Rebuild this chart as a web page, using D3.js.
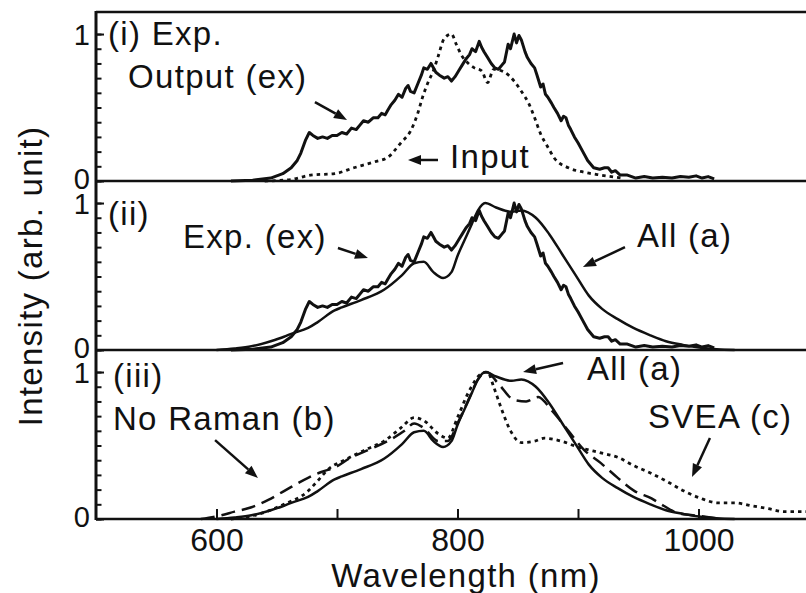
<!DOCTYPE html>
<html>
<head>
<meta charset="utf-8">
<script src="https://cdn.jsdelivr.net/npm/d3@7/dist/d3.min.js"></script>
<style>
  html, body { margin: 0; padding: 0; background: #fff; }
  svg { display: block; }
  text { font-family: 'Liberation Sans', Arial, Helvetica, sans-serif; fill: #111; }
</style>
</head>
<body>
<svg id="chart" width="806" height="593"></svg>
<script>
// values (wavelength in nm, intensity normalised)
var expWavelength = [612, 630, 645, 655, 662, 667, 670, 674, 677, 680, 684, 688, 692, 696, 700, 704, 708, 712, 716, 719,
  722, 726, 730, 734, 737, 740, 742, 745, 748, 751, 754, 757, 759, 761, 764, 767, 770, 772, 775, 778,
  780, 782, 785, 789, 792, 795, 798, 801, 804, 807, 810, 812, 815, 818, 820, 822, 825, 828, 831, 834,
  837, 839, 842, 844, 847, 849, 851, 853, 856, 858, 861, 864, 866, 869, 871, 873, 875, 878, 880, 883,
  886, 888, 890, 892, 894, 897, 900, 904, 908, 913, 918, 922, 925, 928, 931, 935, 941, 948, 955, 962,
  970, 978, 985, 992, 998, 1003, 1008, 1013];
var expIntensity = [0, 0.005, 0.02, 0.05, 0.09, 0.14, 0.19, 0.28, 0.33, 0.31, 0.29, 0.3, 0.29, 0.31, 0.31, 0.33, 0.32, 0.36, 0.35, 0.38,
  0.41, 0.4, 0.43, 0.43, 0.46, 0.45, 0.48, 0.52, 0.55, 0.59, 0.57, 0.63, 0.65, 0.61, 0.6, 0.66, 0.72, 0.77, 0.76, 0.8,
  0.77, 0.74, 0.72, 0.7, 0.71, 0.68, 0.71, 0.75, 0.79, 0.83, 0.86, 0.9, 0.88, 0.95, 0.91, 0.88, 0.84, 0.8, 0.77, 0.76,
  0.79, 0.81, 0.93, 0.9, 1.0, 0.94, 0.99, 0.96, 0.88, 0.84, 0.8, 0.77, 0.72, 0.64, 0.66, 0.59, 0.57, 0.53, 0.5, 0.46,
  0.41, 0.44, 0.43, 0.38, 0.35, 0.3, 0.26, 0.2, 0.14, 0.09, 0.08, 0.09, 0.09, 0.06, 0.07, 0.04, 0.04, 0.02, 0.03, 0.02,
  0.025, 0.02, 0.03, 0.025, 0.035, 0.02, 0.03, 0.015];

var inputWavelength = [640, 662, 678, 698, 714, 731, 742, 753, 761, 767, 771, 776, 780, 784, 789, 795, 799, 803, 809, 814,
  820, 825, 830, 839, 847, 853, 859, 864, 869, 875, 880, 892, 905, 919, 936];
var inputIntensity = [0, 0.01, 0.04, 0.05, 0.09, 0.13, 0.16, 0.26, 0.34, 0.46, 0.57, 0.68, 0.75, 0.85, 0.97, 1.0, 0.93, 0.86, 0.8, 0.77,
  0.75, 0.67, 0.76, 0.74, 0.68, 0.61, 0.53, 0.43, 0.32, 0.23, 0.16, 0.09, 0.06, 0.04, 0.02];

var allWavelength = [600, 615, 629, 645, 656, 662, 676, 684, 698, 704, 720, 739, 754, 764, 772, 780, 788, 795, 800, 806,
  812, 817, 823, 832, 845, 853, 865, 876, 887, 898, 909, 920, 933, 946, 960, 973, 987, 1002, 1015, 1030];
var allIntensity = [0, 0.01, 0.025, 0.06, 0.09, 0.11, 0.15, 0.19, 0.27, 0.29, 0.34, 0.41, 0.51, 0.59, 0.6, 0.53, 0.49, 0.53, 0.64, 0.75,
  0.86, 0.95, 1.0, 0.97, 0.94, 0.95, 0.9, 0.79, 0.65, 0.51, 0.37, 0.28, 0.21, 0.15, 0.1, 0.06, 0.035, 0.015, 0.005, 0];

var noRamanWavelength = [587, 601, 615, 629, 643, 656, 676, 687, 698, 712, 726, 742, 756, 764, 772, 784, 792, 800, 809, 817,
  824, 834, 847, 857, 867, 878, 892, 905, 919, 933, 947, 961, 971, 983, 1002, 1019];
var noRamanIntensity = [0, 0.02, 0.05, 0.08, 0.13, 0.19, 0.28, 0.32, 0.35, 0.42, 0.47, 0.53, 0.6, 0.65, 0.62, 0.53, 0.53, 0.65, 0.81, 0.95,
  1.0, 0.92, 0.81, 0.8, 0.83, 0.74, 0.6, 0.47, 0.38, 0.28, 0.19, 0.14, 0.09, 0.04, 0.02, 0];

var sveaWavelength = [612, 629, 656, 676, 684, 693, 706, 726, 739, 753, 764, 772, 784, 792, 800, 809, 820, 825, 830, 836,
  844, 853, 864, 872, 886, 900, 919, 933, 947, 961, 975, 988, 1002, 1016, 1030, 1044, 1058, 1071, 1090, 1101];
var sveaIntensity = [0, 0.02, 0.1, 0.19, 0.26, 0.34, 0.4, 0.48, 0.53, 0.62, 0.69, 0.67, 0.58, 0.55, 0.69, 0.86, 0.99, 1.0, 0.9, 0.76,
  0.6, 0.52, 0.53, 0.55, 0.53, 0.49, 0.45, 0.42, 0.36, 0.31, 0.25, 0.19, 0.14, 0.11, 0.11, 0.09, 0.07, 0.05, 0.05, 0.05];

var xTicks = [600, 700, 800, 900, 1000, 1100];
var xTickLabels = [600, 800, 1000];
var yTicks = [0, 0.1, 0.2, 0.3, 0.4, 0.5, 0.6, 0.7, 0.8, 0.9, 1];
var yTickLabels = [0, 1];
var panelNames = ['(i) Exp.', '(ii)', '(iii)'];

var plotLeft = 96,
    plotRight = 819,
    panelTop = 12,
    panelHeight = 169,
    ink = '#111',
    noteFont = '33px',
    noteSpacing = '1.3px';

var svg = d3.select('#chart');
var x = d3.scaleLinear().domain([500, 1100]).range([plotLeft, plotRight]);

function pairs(ws, vs) {
  return ws.map(function(w, i) { return [w, vs[i]]; });
}

var panels = [
  {
    series: [
      { data: pairs(expWavelength, expIntensity), dash: null, width: 3, smooth: false },
      { data: pairs(inputWavelength, inputIntensity), dash: '3.5,4', width: 2.8, smooth: true }
    ],
    notes: [
      { text: panelNames[0], w: 510, v: 0.925 },
      { text: 'Output (ex)', w: 526.6, v: 0.633 },
      { text: 'Input', w: 793.8, v: 0.088 }
    ],
    arrows: [
      { from: [681.7, 0.537], to: [708.3, 0.415] },
      { from: [783.8, 0.143], to: [758.9, 0.143] }
    ]
  },
  {
    series: [
      { data: pairs(expWavelength, expIntensity), dash: null, width: 3, smooth: false },
      { data: pairs(allWavelength, allIntensity), dash: null, width: 2.5, smooth: true }
    ],
    notes: [
      { text: panelNames[1], w: 510, v: 0.85 },
      { text: 'Exp. (ex)', w: 572.2, v: 0.694 },
      { text: 'All (a)', w: 949, v: 0.70 }
    ],
    arrows: [
      { from: [700.8, 0.694], to: [725.7, 0.626] },
      { from: [939, 0.70], to: [904.1, 0.565] }
    ]
  },
  {
    series: [
      { data: pairs(allWavelength, allIntensity), dash: null, width: 2.5, smooth: true },
      { data: pairs(noRamanWavelength, noRamanIntensity), dash: '14,7', width: 2.5, smooth: true },
      { data: pairs(sveaWavelength, sveaIntensity), dash: '3.5,4', width: 2.8, smooth: true }
    ],
    notes: [
      { text: panelNames[2], w: 514.1, v: 0.898 },
      { text: 'No Raman (b)', w: 514.1, v: 0.605 },
      { text: 'All (a)', w: 907.5, v: 0.946 },
      { text: 'SVEA (c)', w: 958.1, v: 0.619 }
    ],
    arrows: [
      { from: [598.8, 0.537], to: [634.4, 0.279] },
      { from: [887.6, 1.061], to: [854.4, 1.0] },
      { from: [1009.5, 0.551], to: [994.6, 0.286] }
    ]
  }
];

function drawArrow(g, x1, y1, x2, y2) {
  var a = Math.atan2(y2 - y1, x2 - x1),
      len = 13, half = 5,
      bx = x2 - len * Math.cos(a),
      by = y2 - len * Math.sin(a);
  g.append('line')
    .attr('x1', x1).attr('y1', y1)
    .attr('x2', bx).attr('y2', by)
    .attr('stroke', ink)
    .attr('stroke-width', 2.5);
  g.append('path')
    .attr('d', 'M' + x2 + ',' + y2 +
      'L' + (bx - half * Math.sin(a)) + ',' + (by + half * Math.cos(a)) +
      'L' + (bx + half * Math.sin(a)) + ',' + (by - half * Math.cos(a)) + 'Z')
    .attr('fill', ink);
}

panels.forEach(function(panel, i) {
  var top = panelTop + i * panelHeight,
      bottom = top + panelHeight,
      y = d3.scaleLinear().domain([0, 1.15]).range([bottom, top]),
      g = svg.append('g').attr('class', 'panel-' + i);

  panel.series.forEach(function(s) {
    var line = d3.line()
      .x(function(d) { return x(d[0]); })
      .y(function(d) { return y(d[1]); })
      .curve(s.smooth ? d3.curveMonotoneX : d3.curveLinear);
    g.append('path')
      .datum(s.data)
      .attr('d', line)
      .attr('fill', 'none')
      .attr('stroke', ink)
      .attr('stroke-width', s.width)
      .attr('stroke-linejoin', 'round')
      .attr('stroke-dasharray', s.dash);
  });

  // minor ticks inside the frame, with longer ones at 0 and 1
  var minor = d3.axisLeft(y).tickValues(yTicks).tickSizeInner(-5.5).tickSizeOuter(0).tickFormat('');
  g.append('g').attr('transform', 'translate(' + plotLeft + ',0)').call(minor);
  var major = d3.axisLeft(y).tickValues(yTickLabels).tickSizeInner(-8).tickSizeOuter(0).tickPadding(6)
    .tickFormat(d3.format('d'));
  g.append('g').attr('class', 'major').attr('transform', 'translate(' + plotLeft + ',0)').call(major);
  g.selectAll('.domain').remove();
  g.selectAll('.tick line').attr('stroke', ink).attr('stroke-width', 2);
  g.selectAll('.major text')
    .style('font-size', '29px')
    .style('font-family', "'Liberation Sans', Arial, sans-serif")
    .attr('fill', ink)
    .attr('dy', function(d) { return d === 0 ? '0.26em' : '0.36em'; });

  g.selectAll('text.note')
    .data(panel.notes)
    .enter().append('text')
      .attr('class', 'note')
      .attr('x', function(d) { return x(d.w); })
      .attr('y', function(d) { return y(d.v); })
      .style('font-size', noteFont)
      .style('letter-spacing', noteSpacing)
      .text(function(d) { return d.text; });

  panel.arrows.forEach(function(a) {
    drawArrow(g, x(a.from[0]), y(a.from[1]), x(a.to[0]), y(a.to[1]));
  });

  // horizontal frame line at the top of each panel
  g.append('line')
    .attr('x1', plotLeft).attr('x2', plotRight)
    .attr('y1', top).attr('y2', top)
    .attr('stroke', ink).attr('stroke-width', 2.6);

  if (i === panels.length - 1) {
    var xAxis = d3.axisBottom(x)
      .tickValues(xTicks)
      .tickSizeInner(-10)
      .tickSizeOuter(0)
      .tickPadding(9)
      .tickFormat(function(d) { return xTickLabels.indexOf(d) >= 0 ? d : ''; });
    var ax = g.append('g').attr('transform', 'translate(0,' + bottom + ')').call(xAxis);
    ax.select('.domain').remove();
    ax.selectAll('.tick line').attr('stroke', ink).attr('stroke-width', 2);
    ax.selectAll('text')
      .style('font-size', '32px')
      .style('font-family', "'Liberation Sans', Arial, sans-serif")
      .attr('fill', ink);
    g.append('line')
      .attr('x1', plotLeft).attr('x2', plotRight)
      .attr('y1', bottom).attr('y2', bottom)
      .attr('stroke', ink).attr('stroke-width', 2.6);
  }
});

// left spine shared by the three panels
svg.append('line')
  .attr('x1', plotLeft).attr('x2', plotLeft)
  .attr('y1', panelTop - 1).attr('y2', panelTop + 3 * panelHeight + 1)
  .attr('stroke', ink).attr('stroke-width', 3);

svg.append('text')
  .attr('x', 466).attr('y', 587)
  .attr('text-anchor', 'middle')
  .style('font-size', noteFont)
  .style('letter-spacing', noteSpacing)
  .text('Wavelength (nm)');

svg.append('text')
  .attr('transform', 'translate(42,276) rotate(-90)')
  .attr('text-anchor', 'middle')
  .style('font-size', noteFont)
  .style('letter-spacing', noteSpacing)
  .text('Intensity (arb. unit)');
</script>
</body>
</html>
